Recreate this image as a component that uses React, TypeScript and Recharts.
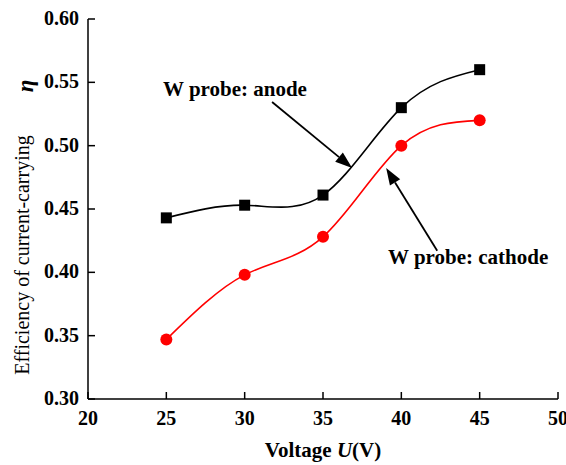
import { LineChart, Line, XAxis, YAxis, ReferenceLine, ReferenceDot } from "recharts";

const voltages = [25, 30, 35, 40, 45];
const anodeEff = [0.443, 0.453, 0.461, 0.53, 0.56];
const cathodeEff = [0.347, 0.398, 0.428, 0.5, 0.52];
const xTicks = [20, 25, 30, 35, 40, 45, 50];
const yTicks = [0.3, 0.35, 0.4, 0.45, 0.5, 0.55, 0.6];

const annotations = [
  { text: "W probe: anode", at: [24.79, 0.539], from: [31.75, 0.5345], to: [36.86, 0.4824] },
  { text: "W probe: cathode", at: [39.15, 0.4066], from: [42.29, 0.417], to: [39.03, 0.4824] },
];

const data = voltages.map((v, i) => ({ v, anode: anodeEff[i], cathode: cathodeEff[i] }));

const serif = { fontFamily: "'Liberation Serif', 'Times New Roman', serif" };

const XTick = ({ x, y, payload }: any) => (
  <g>
    <line x1={x} y1={y - 8} x2={x} y2={y - 15} stroke="#000" strokeWidth={1.5} />
    <text x={x} y={y + 18} textAnchor="middle" style={serif} fontWeight="bold" fontSize={20} fill="#000">
      {payload.value}
    </text>
  </g>
);

const YTick = ({ x, y, payload }: any) => (
  <g>
    <line x1={x + 8} y1={y} x2={x + 15} y2={y} stroke="#000" strokeWidth={1.5} />
    <text x={x - 1} y={y + 6} textAnchor="end" style={serif} fontWeight="bold" fontSize={20} fill="#000">
      {Number(payload.value).toFixed(2)}
    </text>
  </g>
);

const Arrow = (props: any) => {
  const { x1, y1, x2, y2 } = props;
  const a = Math.atan2(y2 - y1, x2 - x1);
  const len = 17;
  const w = 6;
  const bx = x2 - len * Math.cos(a);
  const by = y2 - len * Math.sin(a);
  const px = -Math.sin(a) * w;
  const py = Math.cos(a) * w;
  return (
    <g>
      <line x1={x1} y1={y1} x2={bx} y2={by} stroke="#000" strokeWidth={1.8} />
      <polygon points={`${x2},${y2} ${bx + px},${by + py} ${bx - px},${by - py}`} fill="#000" />
    </g>
  );
};

const Square = (props: any) => {
  const { cx, cy } = props;
  return <rect x={cx - 5.5} y={cy - 5.5} width={11} height={11} fill="#000" />;
};

const Dot = (props: any) => {
  const { cx, cy } = props;
  return <circle cx={cx} cy={cy} r={6} fill="#ff0000" />;
};

export default function App() {
  return (
    <div style={{ position: "absolute", left: 0, top: 0, background: "#fff" }}>
      <LineChart width={566} height={465} data={data} margin={{ top: 19, right: 8, left: 0, bottom: 0 }}>
        <XAxis
          dataKey="v"
          type="number"
          domain={[20, 50]}
          ticks={xTicks}
          height={66}
          tickLine={false}
          tick={<XTick />}
          axisLine={{ stroke: "#000", strokeWidth: 1.5 }}
          label={{
            content: () => (
              <text x={323} y={457} textAnchor="middle" style={serif} fontWeight="bold" fontSize={21} fill="#000">
                Voltage <tspan fontStyle="italic">U</tspan>(V)
              </text>
            ),
          }}
        />
        <YAxis
          type="number"
          domain={[0.3, 0.6]}
          ticks={yTicks}
          width={88}
          tickLine={false}
          tick={<YTick />}
          axisLine={{ stroke: "#000", strokeWidth: 1.5 }}
          label={{
            content: () => (
              <g>
                <text
                  transform="translate(29,255) rotate(-90)"
                  textAnchor="middle"
                  style={serif}
                  fontSize={20}
                  fill="#000"
                >
                  Efficiency of current-carrying
                </text>
                <text
                  transform="translate(33,86) rotate(-90)"
                  textAnchor="middle"
                  style={serif}
                  fontSize={23}
                  fontWeight="bold"
                  fontStyle="italic"
                  fill="#000"
                >
                  η
                </text>
              </g>
            ),
          }}
        />
        <Line
          type="natural"
          dataKey="anode"
          stroke="#000"
          strokeWidth={1.6}
          dot={<Square />}
          activeDot={false}
          isAnimationActive={false}
        />
        <Line
          type="natural"
          dataKey="cathode"
          stroke="#ff0000"
          strokeWidth={1.6}
          dot={<Dot />}
          activeDot={false}
          isAnimationActive={false}
        />
        {annotations.map((a) => (
          <ReferenceLine
            key={a.text + "-arrow"}
            segment={[
              { x: a.from[0], y: a.from[1] },
              { x: a.to[0], y: a.to[1] },
            ]}
            shape={<Arrow />}
          />
        ))}
        {annotations.map((a) => (
          <ReferenceDot
            key={a.text}
            x={a.at[0]}
            y={a.at[1]}
            r={0}
            shape={(p: any) => (
              <text x={p.cx} y={p.cy} style={serif} fontWeight="bold" fontSize={21} fill="#000">
                {a.text}
              </text>
            )}
          />
        ))}
      </LineChart>
    </div>
  );
}
